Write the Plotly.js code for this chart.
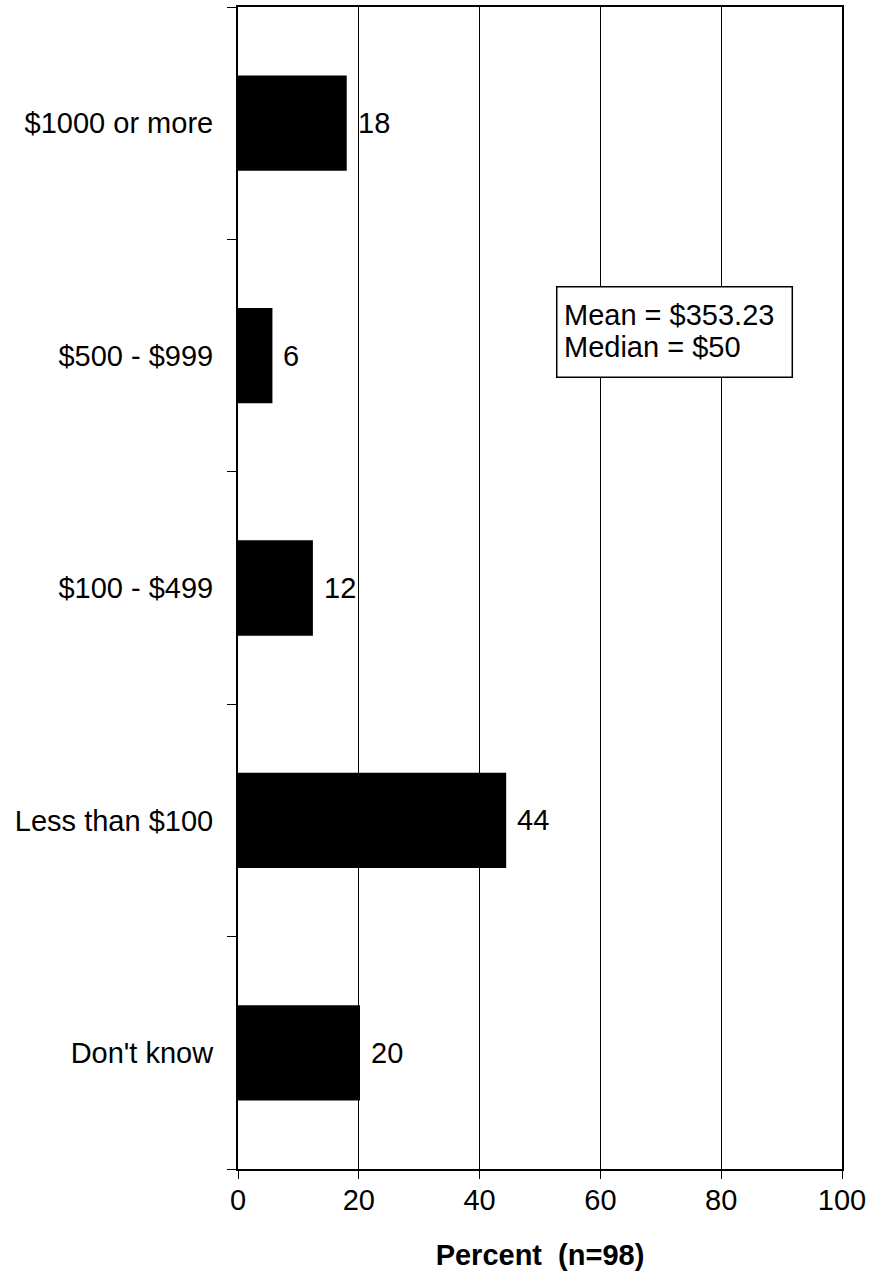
<!DOCTYPE html>
<html>
<head>
<meta charset="utf-8">
<script src="https://cdn.plot.ly/plotly-3.0.1.min.js"></script>
<style>
html,body{margin:0;padding:0;background:#fff;}
#chart{width:870px;height:1283px;}
</style>
</head>
<body>
<div id="chart"></div>
<script>
// Data (bottom to top)
var categories = ["Don't know", "Less than $100", "$100 - $499", "$500 - $999", "$1000 or more"];
var percents = [20.2, 44.4, 12.4, 5.7, 18.0];
var labels = ["20", "44", "12", "6", "18"];
var xTicks = [0, 20, 40, 60, 80, 100];
var statsLines = ["Mean = $353.23", "Median = $50"];

var FONT = "Arial, 'Liberation Sans', sans-serif";
var FS = 29;

var trace = {
  type: "bar",
  orientation: "h",
  x: percents,
  y: categories,
  width: 0.41,
  marker: {color: "#000000", line: {width: 0}},
  hoverinfo: "none"
};

var annotations = categories.map(function(c, i) {
  return {
    x: percents[i], y: c, xref: "x", yref: "y",
    text: labels[i], showarrow: false,
    xanchor: "left", yanchor: "middle", xshift: 9,
    font: {family: FONT, size: FS, color: "#000"}
  };
});

annotations.push({
  xref: "paper", yref: "paper", x: 0.536, y: 0.7352,
  text: statsLines[0], showarrow: false, xanchor: "left", yanchor: "middle",
  font: {family: FONT, size: FS, color: "#000"}
});
annotations.push({
  xref: "paper", yref: "paper", x: 0.536, y: 0.7072,
  text: statsLines[1], showarrow: false, xanchor: "left", yanchor: "middle",
  font: {family: FONT, size: FS, color: "#000"}
});

var layout = {
  width: 870, height: 1283,
  margin: {l: 238, r: 28, t: 7, b: 114},
  paper_bgcolor: "#fff", plot_bgcolor: "#fff",
  showlegend: false,
  font: {family: FONT, size: FS, color: "#000"},
  xaxis: {
    range: [0, 100],
    tickvals: xTicks,
    ticks: "outside", ticklen: 8, tickwidth: 1, tickcolor: "#000",
    showgrid: true, gridcolor: "#000", gridwidth: 1,
    showline: true, linecolor: "#000", linewidth: 2, mirror: true,
    zeroline: false,
    ticklabelstandoff: -4,
    tickfont: {family: FONT, size: FS, color: "#000"},
    title: {text: "<b>Percent  (n=98)</b>", font: {family: FONT, size: FS, color: "#000"}, standoff: 30},
    fixedrange: true
  },
  yaxis: {
    type: "category",
    categoryorder: "array", categoryarray: categories,
    range: [-0.5, 4.5],
    tickson: "boundaries",
    ticks: "outside", ticklen: 9, tickwidth: 1, tickcolor: "#000",
    showgrid: false,
    showline: true, linecolor: "#000", linewidth: 2, mirror: true,
    zeroline: false,
    ticklabelstandoff: 17,
    tickfont: {family: FONT, size: FS, color: "#000"},
    fixedrange: true
  },
  shapes: [{
    type: "rect", xref: "paper", yref: "paper",
    x0: 0.5277, x1: 0.9177, y0: 0.6813, y1: 0.7593,
    line: {color: "#000", width: 1.5}, fillcolor: "#fff", layer: "above"
  }],
  annotations: annotations
};

Plotly.newPlot("chart", [trace], layout, {staticPlot: true, displayModeBar: false});
</script>
</body>
</html>
